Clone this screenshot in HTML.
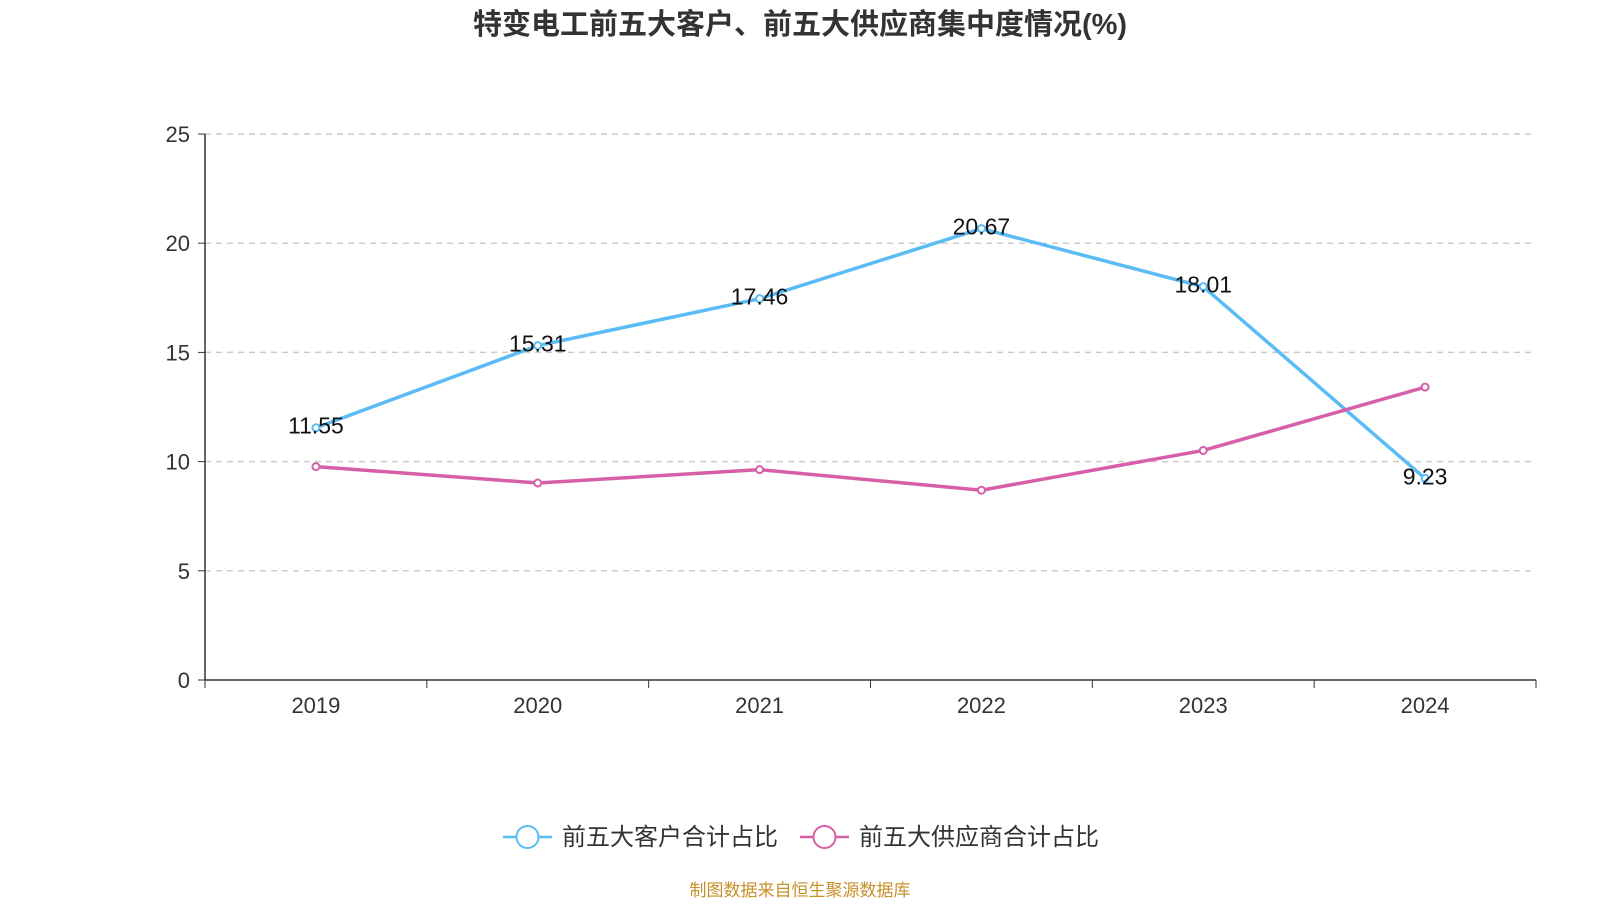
<!DOCTYPE html>
<html><head><meta charset="utf-8"><style>
body{margin:0;background:#fff;width:1600px;height:900px;overflow:hidden;font-family:"Liberation Sans","Noto Sans CJK SC",sans-serif}
</style></head><body>
<svg id="c" width="1600" height="900" xmlns="http://www.w3.org/2000/svg">
<text x="800" y="34" text-anchor="middle" font-size="29" font-weight="bold" fill="#333" font-family="Liberation Sans, Noto Sans CJK SC, sans-serif">特变电工前五大客户、前五大供应商集中度情况(%)</text>
<text x="800" y="896" text-anchor="middle" font-size="17" fill="#c8902a" font-family="Liberation Sans, Noto Sans CJK SC, sans-serif">制图数据来自恒生聚源数据库</text>
</svg>
<script>
const categories=['2019','2020','2021','2022','2023','2024'];
const customers=[11.55,15.31,17.46,20.67,18.01,9.23];
const suppliers=[9.77,9.02,9.63,8.69,10.51,13.41];
const yTicks=[0,5,10,15,20,25];
const svg=document.getElementById('c');
const NS='http://www.w3.org/2000/svg';
const L=205,R=1536,T=134,B=680;
const bw=(R-L)/categories.length;
const x=i=>L+bw*(i+0.5);
const y=v=>B-(v/25)*(B-T);
function mk(t,a,p){const e=document.createElementNS(NS,t);for(const k in a)e.setAttribute(k,a[k]);(p||svg).appendChild(e);return e;}
const F='Liberation Sans, Noto Sans CJK SC, sans-serif';
yTicks.forEach(v=>{
 if(v>0){const g=mk('line',{x1:L,x2:R,y1:y(v),y2:y(v),stroke:'#ccc','stroke-dasharray':'6,5','stroke-width':1.5});
 
 }
 const tk=mk('line',{x1:L-7,x2:L,y1:y(v),y2:y(v),stroke:'#333'});
 
 
 const t=mk('text',{x:L-15,y:y(v)+8,'text-anchor':'end','font-size':22,fill:'#333','font-family':F});t.textContent=v;
 
 
});
const ya=mk('line',{x1:L,x2:L,y1:T,y2:B,stroke:'#333','stroke-width':1.5});


const xa=mk('line',{x1:L,x2:R,y1:B,y2:B,stroke:'#333','stroke-width':1.5});


for(let i=0;i<=categories.length;i++){const tk=mk('line',{x1:L+bw*i,x2:L+bw*i,y1:B,y2:B+8,stroke:'#333'});
 
 }
categories.forEach((c,i)=>{const t=mk('text',{x:x(i),y:B+33,'text-anchor':'middle','font-size':22,fill:'#333','font-family':F});t.textContent=c;
 
 });
function series(vals,color,name,labels){
 const p=mk('polyline',{points:vals.map((v,i)=>x(i)+','+y(v)).join(' '),fill:'none',stroke:color,'stroke-width':3.5});
 
 
 vals.forEach((v,i)=>{const c=mk('circle',{cx:x(i),cy:y(v),r:3.5,fill:'#fff',stroke:color,'stroke-width':2});
  
  
  if(labels){const t=mk('text',{x:x(i),y:y(v)+6,'text-anchor':'middle','font-size':23,fill:'#111','font-family':F});t.textContent=v.toFixed(2);
  
  }
 });
}
series(customers,'#5bbcf5','customers',true);
series(suppliers,'#d65fa8','suppliers',false);
function legend(lx,color,label,name){
 const g=mk('g',{});
 
 
 mk('line',{x1:lx,x2:lx+49,y1:837,y2:837,stroke:color,'stroke-width':2.5},g);
 mk('circle',{cx:lx+24.5,cy:837,r:11,fill:'#fff',stroke:color,'stroke-width':2},g);
 const t=mk('text',{x:lx+59,y:845,'font-size':24,fill:'#333','font-family':F},g);t.textContent=label;
}
legend(503,'#5bbcf5','前五大客户合计占比','legend-customers');
legend(800,'#d65fa8','前五大供应商合计占比','legend-suppliers');
</script>
</body></html>
